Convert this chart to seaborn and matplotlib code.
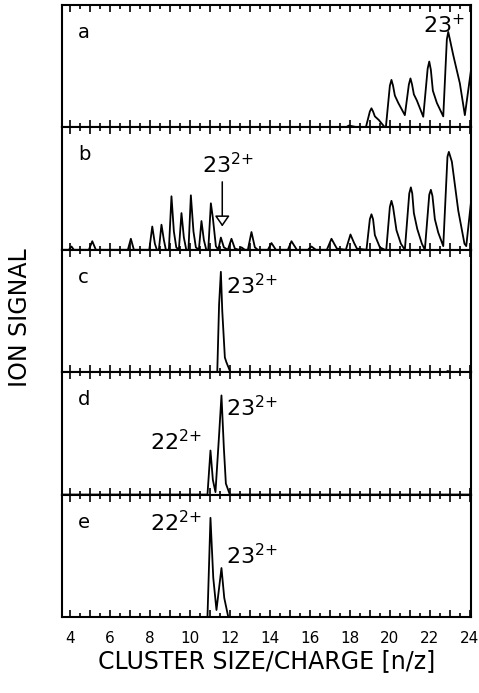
import pandas as pd
import seaborn as sns
import matplotlib.pyplot as plt
from matplotlib.ticker import MultipleLocator

# traces (x = n/z, y = fraction of panel height)
a_x = [3.6, 17.8, 17.95, 18.1, 18.4, 18.8, 19.0, 19.08, 19.16, 19.25, 19.45, 19.75, 19.8, 20.0, 20.08, 20.16,
       20.25, 20.42, 20.75, 20.95, 21.03, 21.11, 21.2, 21.35, 21.67, 21.89, 21.97, 22.05, 22.15, 22.35, 22.67,
       22.85, 22.92, 23.0, 23.17, 23.5, 23.75, 24.05]
a_y = [0, 0, 0.015, 0.01, 0, 0, 0.13, 0.156, 0.13, 0.09, 0.06, 0, 0, 0.34, 0.388, 0.34,
       0.26, 0.2, 0.10, 0.35, 0.40, 0.35, 0.27, 0.22, 0.087, 0.48, 0.538, 0.47, 0.3, 0.2, 0.09,
       0.72, 0.78, 0.72, 0.59, 0.36, 0.10, 0.46]

b_x = [3.6, 3.95, 4.08, 4.2, 4.95, 5.12, 5.3, 6.9, 7.05, 7.2, 7.97, 8.12, 8.25, 8.35, 8.45, 8.58, 8.7, 8.8,
       8.95, 9.08, 9.2, 9.32, 9.45, 9.58, 9.7, 9.82, 9.93, 10.05, 10.18, 10.3, 10.45, 10.58, 10.7, 10.82,
       10.92, 11.05, 11.15, 11.3, 11.42, 11.55, 11.7, 11.9, 12.08, 12.25, 12.45, 12.58, 12.75, 12.9, 13.08,
       13.25, 13.4, 13.9, 14.08, 14.3, 14.9, 15.08, 15.35, 15.9, 16.08, 16.3, 16.85, 17.08, 17.35, 17.8,
       18.03, 18.2, 18.35, 18.83, 19.0, 19.08, 19.16, 19.25, 19.5, 19.75, 19.82, 20.0, 20.08, 20.16, 20.33,
       20.55, 20.75, 20.97, 21.05, 21.12, 21.2, 21.37, 21.6, 21.75, 21.97, 22.05, 22.13, 22.25, 22.42,
       22.67, 22.88, 22.95, 23.1, 23.42, 23.73, 23.82, 24.05]
b_y = [0, 0, 0.027, 0, 0, 0.07, 0, 0, 0.09, 0, 0, 0.19, 0.05, 0, 0, 0.205, 0.08, 0,
       0, 0.437, 0.15, 0.02, 0, 0.30, 0.1, 0, 0, 0.445, 0.15, 0.02, 0, 0.235, 0.08, 0,
       0, 0.38, 0.26, 0.03, 0, 0.10, 0.02, 0, 0.09, 0.01, 0, 0.02, 0, 0, 0.145,
       0.02, 0, 0, 0.055, 0, 0, 0.07, 0, 0, 0.027, 0, 0, 0.09, 0.01, 0,
       0.125, 0.06, 0.01, 0, 0.25, 0.29, 0.25, 0.12, 0.02, 0, 0, 0.35, 0.40, 0.35, 0.16,
       0.05, 0, 0.46, 0.51, 0.46, 0.3, 0.17, 0.05, 0, 0.45, 0.49, 0.44, 0.25, 0.14,
       0.03, 0.76, 0.80, 0.72, 0.32, 0.05, 0.03, 0.38]

c_x = [3.6, 11.37, 11.46, 11.55, 11.62, 11.75, 11.83, 12.03, 19.9, 20.0, 20.1, 22.8, 22.9, 23.0, 24.05]
c_y = [0, 0, 0.55, 0.82, 0.5, 0.12, 0.08, 0, 0, 0.01, 0, 0, 0.01, 0, 0]

d_x = [3.6, 10.88, 11.03, 11.15, 11.28, 11.47, 11.58, 11.7, 11.8, 12.0, 24.05]
d_y = [0, 0, 0.36, 0.12, 0.02, 0.51, 0.81, 0.38, 0.09, 0, 0]

e_x = [3.6, 10.88, 11.03, 11.17, 11.33, 11.58, 11.72, 11.92, 24.05]
e_y = [0, 0, 0.81, 0.32, 0.057, 0.40, 0.155, 0, 0]

panel_names = ["a", "b", "c", "d", "e"]
traces = [(a_x, a_y), (b_x, b_y), (c_x, c_y), (d_x, d_y), (e_x, e_y)]

# peak labels: panel index, x, y, text
label_panel = [0, 1, 2, 3, 3, 4, 4]
label_x = [21.65, 10.6, 11.83, 11.83, 8.03, 8.03, 11.83]
label_y = [0.77, 0.625, 0.64, 0.64, 0.36, 0.70, 0.43]
label_txt = ["23$^{+}$", "23$^{2\\!+}$", "23$^{2\\!+}$", "23$^{2\\!+}$", "22$^{2\\!+}$", "22$^{2\\!+}$", "23$^{2\\!+}$"]

xtick_values = list(range(4, 25, 2))

sns.set_style("ticks")
plt.rcParams['font.family'] = ['DejaVu Sans']
plt.rcParams['text.color'] = 'black'
plt.rcParams['axes.labelcolor'] = 'black'
plt.rcParams['xtick.color'] = 'black'

fig, axes = plt.subplots(5, 1, figsize=(4.79, 6.93), dpi=100, sharex=True)
fig.subplots_adjust(left=0.130, right=0.983, top=0.9928, bottom=0.1097, hspace=0)

for ax, name, (xs, ys) in zip(axes, panel_names, traces):
    df = pd.DataFrame({"x": xs, "y": ys})
    sns.lineplot(data=df, x="x", y="y", ax=ax, color="black", lw=1.3,
                 estimator=None, sort=False)
    ax.set_xlim(3.62, 24.05)
    ax.set_ylim(0, 1)
    ax.set_yticks([])
    ax.set_xlabel("")
    ax.set_ylabel("")
    ax.xaxis.set_major_locator(MultipleLocator(1))
    ax.xaxis.set_minor_locator(MultipleLocator(0.5))
    ax.tick_params(axis="x", which="both", direction="in", top=True, bottom=True,
                   width=1.2, color="black")
    ax.tick_params(axis="x", which="major", length=5, pad=10, labelsize=11)
    ax.tick_params(axis="x", which="minor", length=3)
    for s in ax.spines.values():
        s.set_linewidth(1.5)
        s.set_color("black")
    ax.text(0.038, 0.73, name, transform=ax.transAxes, fontsize=14)

for p, x, y, t in zip(label_panel, label_x, label_y, label_txt):
    axes[p].text(x, y, t, fontsize=16, ha="left", va="baseline")

# arrow pointing at the 23^2+ position in panel b (open head)
axes[1].annotate("", xy=(11.62, 0.19), xytext=(11.62, 0.555),
                 arrowprops=dict(arrowstyle="-|>,head_length=0.65,head_width=0.45",
                                 edgecolor="black", facecolor="white", lw=1.1,
                                 shrinkA=0, shrinkB=0))

bottom = axes[-1]
bottom.set_xticks(range(4, 25))
bottom.set_xticklabels([str(v) if v in xtick_values else "" for v in range(4, 25)])
bottom.set_xlabel("CLUSTER SIZE/CHARGE [n/z]", fontsize=17, labelpad=2)

fig.text(0.042, 0.541, "ION SIGNAL", rotation=90, ha="center", va="center", fontsize=17)

plt.savefig("out.png", dpi=100)
